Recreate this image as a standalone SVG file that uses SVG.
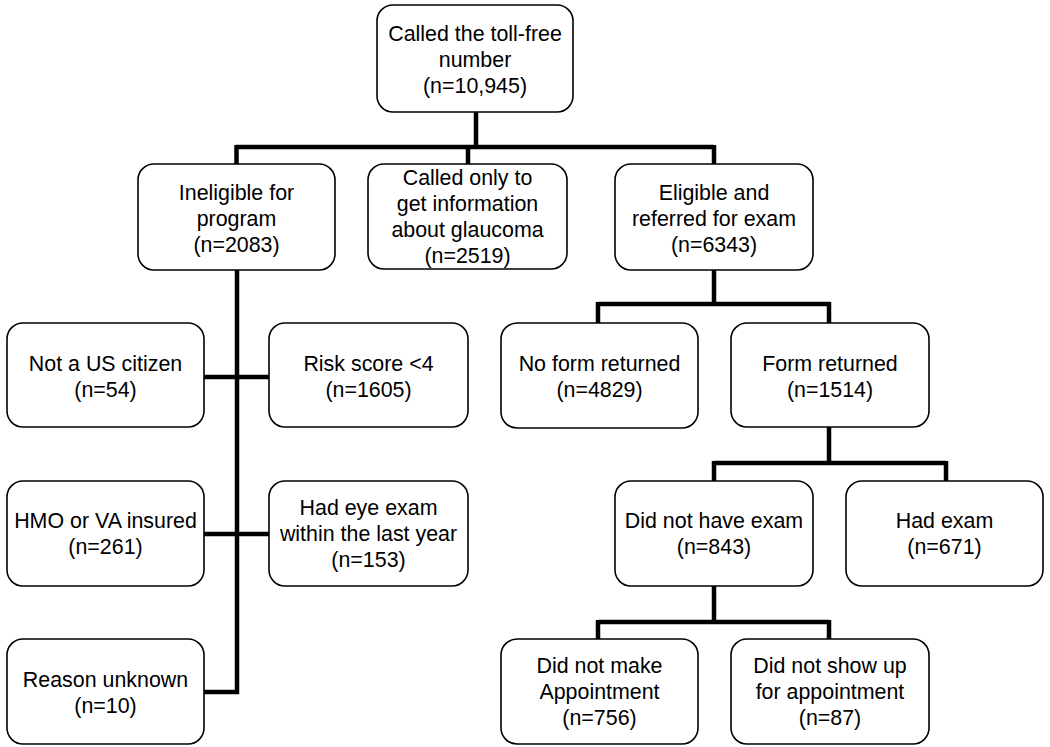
<svg xmlns="http://www.w3.org/2000/svg" width="1050" height="747" viewBox="0 0 1050 747">
<style>
.box{fill:#fff;stroke:#000;stroke-width:1.6}
.t{font-family:"Liberation Sans",Arial,sans-serif;font-size:21.4px;fill:#000;text-anchor:middle}
.c{fill:none;stroke:#000;stroke-width:4.5;stroke-linejoin:miter;stroke-linecap:butt}
</style>
<rect width="1050" height="747" fill="#fff"/>
<g id="connectors">
<path class="c" d="M476,112V147M236,147H714M236.5,145V164M468,147V164M714,145V164"/>
<path class="c" d="M237,270V692H204M204,377H269M204,534H269"/>
<path class="c" d="M714,270V304M598,304H830M598,302V323M829,302V323"/>
<path class="c" d="M829,427V463M714,463H946M714,461V481M946,461V481"/>
<path class="c" d="M714,586V622M598,622H829M598,620V639M829,620V639"/>
</g>
<g id="root"><rect class="box" x="377" y="5" width="196" height="107" rx="16"/>
<text class="t" x="475" y="41">Called the toll-free</text><text class="t" x="475" y="67">number</text><text class="t" x="475" y="93">(n=10,945)</text></g>
<g id="ineligible"><rect class="box" x="138" y="164" width="197" height="106" rx="16"/>
<text class="t" x="236.5" y="200">Ineligible for</text><text class="t" x="236.5" y="226">program</text><text class="t" x="236.5" y="252">(n=2083)</text></g>
<g id="info"><rect class="box" x="368" y="164" width="199" height="105" rx="16"/>
<text class="t" x="467.5" y="185">Called only to</text><text class="t" x="467.5" y="211">get information</text><text class="t" x="467.5" y="237">about glaucoma</text><text class="t" x="467.5" y="263">(n=2519)</text></g>
<g id="eligible"><rect class="box" x="615" y="164" width="198" height="106" rx="16"/>
<text class="t" x="714" y="200">Eligible and</text><text class="t" x="714" y="226">referred for exam</text><text class="t" x="714" y="252">(n=6343)</text></g>
<g id="citizen"><rect class="box" x="7" y="323" width="197" height="104" rx="16"/>
<text class="t" x="105.5" y="371">Not a US citizen</text><text class="t" x="105.5" y="397">(n=54)</text></g>
<g id="risk"><rect class="box" x="269" y="323" width="199" height="104" rx="16"/>
<text class="t" x="368.5" y="371">Risk score &lt;4</text><text class="t" x="368.5" y="397">(n=1605)</text></g>
<g id="noform"><rect class="box" x="501" y="323" width="197" height="105" rx="16"/>
<text class="t" x="599.5" y="371">No form returned</text><text class="t" x="599.5" y="397">(n=4829)</text></g>
<g id="form"><rect class="box" x="731" y="323" width="198" height="104" rx="16"/>
<text class="t" x="830" y="371">Form returned</text><text class="t" x="830" y="397">(n=1514)</text></g>
<g id="hmo"><rect class="box" x="7" y="481" width="197" height="105" rx="16"/>
<text class="t" x="105.5" y="528">HMO or VA insured</text><text class="t" x="105.5" y="554">(n=261)</text></g>
<g id="eyeexam"><rect class="box" x="269" y="481" width="199" height="105" rx="16"/>
<text class="t" x="368.5" y="515">Had eye exam</text><text class="t" x="368.5" y="541">within the last year</text><text class="t" x="368.5" y="567">(n=153)</text></g>
<g id="noexam"><rect class="box" x="615" y="481" width="198" height="105" rx="16"/>
<text class="t" x="714" y="528">Did not have exam</text><text class="t" x="714" y="554">(n=843)</text></g>
<g id="hadexam"><rect class="box" x="846" y="481" width="197" height="105" rx="16"/>
<text class="t" x="944.5" y="528">Had exam</text><text class="t" x="944.5" y="554">(n=671)</text></g>
<g id="unknown"><rect class="box" x="7" y="639" width="197" height="105" rx="16"/>
<text class="t" x="105.5" y="687">Reason unknown</text><text class="t" x="105.5" y="713">(n=10)</text></g>
<g id="nomake"><rect class="box" x="501" y="639" width="197" height="105" rx="16"/>
<text class="t" x="599.5" y="673">Did not make</text><text class="t" x="599.5" y="699">Appointment</text><text class="t" x="599.5" y="725">(n=756)</text></g>
<g id="noshow"><rect class="box" x="731" y="639" width="198" height="105" rx="16"/>
<text class="t" x="830" y="673">Did not show up</text><text class="t" x="830" y="699">for appointment</text><text class="t" x="830" y="725">(n=87)</text></g>
</svg>
